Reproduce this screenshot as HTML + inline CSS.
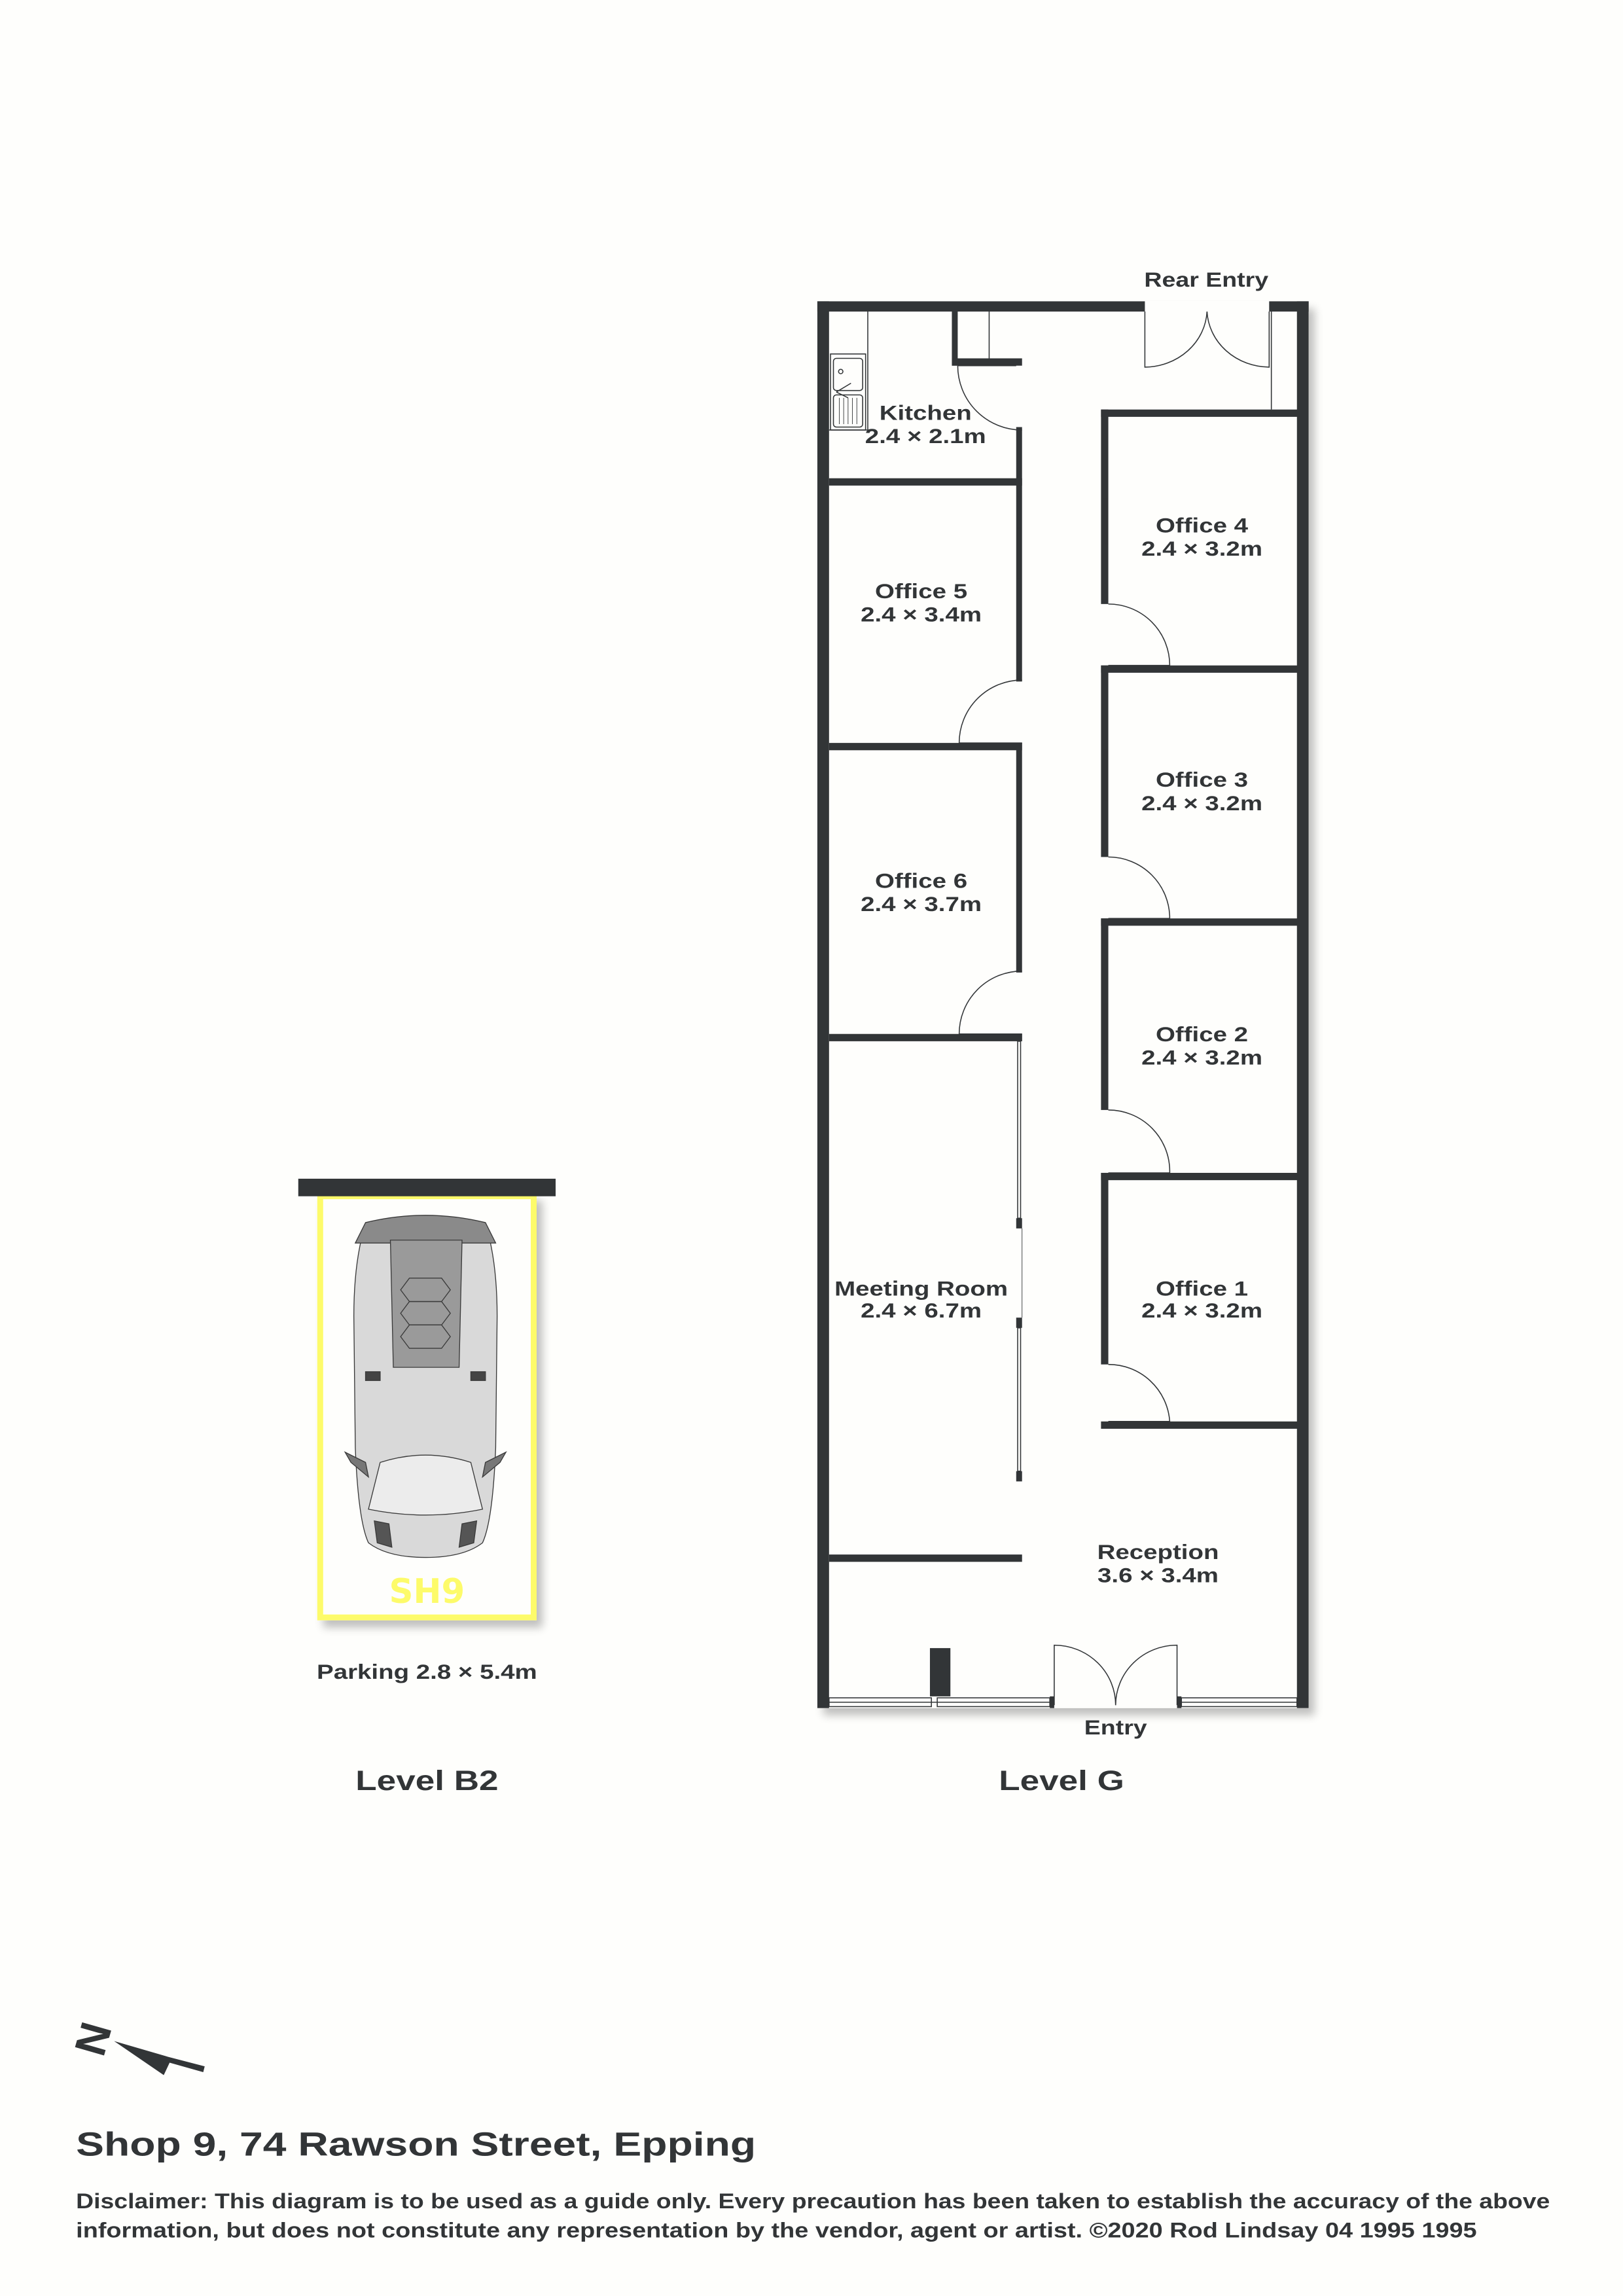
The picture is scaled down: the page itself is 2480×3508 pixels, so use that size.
<!DOCTYPE html>
<html><head><meta charset="utf-8"><style>
html,body{margin:0;padding:0;background:#fefefc;}
svg{display:block;}
text{font-family:"Liberation Sans",Arial,sans-serif;font-weight:bold;fill:#323537;}
</style></head><body>
<svg width="2480" height="3508" viewBox="0 0 1110 1570" xmlns="http://www.w3.org/2000/svg">
<defs>
<filter id="sh" x="-10%" y="-10%" width="130%" height="130%">
<feGaussianBlur in="SourceAlpha" stdDeviation="3"/><feOffset dx="4" dy="5"/>
<feComponentTransfer><feFuncA type="linear" slope="0.25"/></feComponentTransfer>
<feMerge><feMergeNode/><feMergeNode in="SourceGraphic"/></feMerge></filter>
</defs>
<rect width="1110" height="1570" fill="#fefefc"/>

<g filter="url(#sh)">
<rect x="559" y="206" width="336" height="962" fill="#fefefc"/>
</g>
<g fill="#323537">
<rect x="559" y="206" width="224" height="7"/>
<rect x="868" y="206" width="27" height="7"/>
<rect x="559" y="206" width="8" height="962"/>
<rect x="887" y="206" width="8" height="962"/>
<rect x="651" y="213" width="4" height="37"/>
<rect x="651" y="245" width="48" height="5"/>
<rect x="695" y="292" width="4" height="174"/>
<rect x="567" y="327" width="132" height="5"/>
<rect x="567" y="508" width="132" height="5"/>
<rect x="695" y="508" width="4" height="157"/>
<rect x="567" y="707" width="132" height="5"/>
<rect x="695" y="707" width="4" height="5"/>
<rect x="567" y="1063" width="132" height="5"/>
<rect x="695" y="833" width="4" height="7"/>
<rect x="695" y="901" width="4" height="7"/>
<rect x="695" y="1006" width="4" height="7"/>
<rect x="753" y="280" width="136" height="5"/>
<rect x="753" y="280" width="5" height="133"/>
<rect x="753" y="455" width="136" height="5"/>
<rect x="753" y="455" width="5" height="131"/>
<rect x="753" y="628" width="136" height="5"/>
<rect x="753" y="628" width="5" height="131"/>
<rect x="753" y="802" width="136" height="5"/>
<rect x="753" y="802" width="5" height="131"/>
<rect x="753" y="972" width="136" height="5"/>
<rect x="636" y="1127" width="14" height="33"/>
<rect x="718" y="1160" width="3" height="8"/>
<rect x="805" y="1160" width="3" height="8"/>
</g>
<g fill="none" stroke="#323537" stroke-width="0.7">
<rect x="755" y="341" width="2" height="31"/>
<rect x="696" y="361" width="2" height="34"/>
<rect x="755" y="513" width="2" height="35"/>
<rect x="696" y="560" width="2" height="36"/>
<rect x="755" y="686" width="2" height="34"/>
<rect x="755" y="860" width="2" height="34"/>
<rect x="696" y="712" width="2" height="121"/>
<rect x="696" y="908" width="2" height="98"/>
<line x1="699" y1="840" x2="699" y2="901" stroke-width="0.4"/>
<rect x="567" y="1161" width="70" height="6"/>
<rect x="641" y="1161" width="77" height="6"/>
<rect x="808" y="1161" width="79" height="6"/>
<line x1="567" y1="1164" x2="718" y2="1164"/>
<line x1="808" y1="1164" x2="887" y2="1164"/>
<line x1="869.5" y1="213" x2="869.5" y2="280"/>
<line x1="676.5" y1="213" x2="676.5" y2="245"/>
<line x1="593.5" y1="213" x2="593.5" y2="294"/>
<line x1="567" y1="294" x2="593.5" y2="294"/>
<rect x="568" y="242" width="24" height="52"/>
<rect x="570" y="245" width="20" height="22" rx="2"/>
<rect x="570" y="270" width="20" height="22" rx="2"/>
<circle cx="575" cy="254" r="1.5"/>
<path d="M572 268 L582 262 M572 268 L580 272"/>
<path d="M574 272 V290 M577 272 V290 M580 272 V290 M583 272 V290 M586 272 V290" stroke-width="0.4"/>
<path d="M655 250 A44 44 0 0 0 699 294"/>
<line x1="655" y1="250" x2="695" y2="250"/>
<path d="M783 213 V251 A43 40 0 0 0 825.5 213"/>
<path d="M868 213 V251 A43 40 0 0 1 825.5 213"/>
<path d="M699 465 A43 43 0 0 0 656 508 H699"/>
<path d="M699 664 A43 43 0 0 0 656 707 H699"/>
<path d="M758 413 A42 42 0 0 1 800 455 H758"/>
<path d="M758 586 A42 42 0 0 1 800 628 H758"/>
<path d="M758 759 A42 42 0 0 1 800 802 H758"/>
<path d="M758 933 A42 42 0 0 1 800 972 H758"/>
<path d="M721 1166 V1125 A42 41 0 0 1 763 1166"/>
<path d="M805 1166 V1125 A42 41 0 0 0 763 1166"/>
</g>

<g font-size="14" text-anchor="middle">
<text transform="translate(825 196) scale(1.2 1)">Rear Entry</text>
<text transform="translate(633 287) scale(1.23 1)">Kitchen</text><text transform="translate(633 303) scale(1.23 1)">2.4 × 2.1m</text>
<text transform="translate(822 364) scale(1.23 1)">Office 4</text><text transform="translate(822 380) scale(1.23 1)">2.4 × 3.2m</text>
<text transform="translate(630 409) scale(1.23 1)">Office 5</text><text transform="translate(630 425) scale(1.23 1)">2.4 × 3.4m</text>
<text transform="translate(822 538) scale(1.23 1)">Office 3</text><text transform="translate(822 554) scale(1.23 1)">2.4 × 3.2m</text>
<text transform="translate(630 607) scale(1.23 1)">Office 6</text><text transform="translate(630 623) scale(1.23 1)">2.4 × 3.7m</text>
<text transform="translate(822 712) scale(1.23 1)">Office 2</text><text transform="translate(822 728) scale(1.23 1)">2.4 × 3.2m</text>
<text transform="translate(630 886) scale(1.23 1)">Meeting Room</text><text transform="translate(630 901) scale(1.23 1)">2.4 × 6.7m</text>
<text transform="translate(822 886) scale(1.23 1)">Office 1</text><text transform="translate(822 901) scale(1.23 1)">2.4 × 3.2m</text>
<text transform="translate(792 1066) scale(1.23 1)">Reception</text><text transform="translate(792 1082) scale(1.23 1)">3.6 × 3.4m</text>
<text transform="translate(763 1186) scale(1.2 1)">Entry</text>
<text transform="translate(292 1148) scale(1.23 1)">Parking 2.8 × 5.4m</text>
</g>
<g font-size="19" text-anchor="middle">
<text transform="translate(292 1224) scale(1.25 1)">Level B2</text>
<text transform="translate(726 1224) scale(1.25 1)">Level G</text>
</g>

<g filter="url(#sh)">
<rect x="219" y="818" width="146" height="288" fill="#fefefc" stroke="#fdfb6a" stroke-width="4"/>
</g>
<rect x="204" y="806" width="176" height="12" fill="#323537"/>
<g stroke="#3a3a3a" stroke-width="0.6">
<path d="M247 848 Q242 870 242 900 L243 990 Q245 1040 252 1055 Q265 1065 291 1065 Q317 1065 330 1055 Q337 1040 339 990 L340 900 Q340 870 335 848 Z" fill="#d9d9d9"/>
<path d="M243 850 L250 836 Q291 826 332 836 L339 850 Z" fill="#8a8a8a"/>
<path d="M267 848 L316 848 L314 935 L269 935 Z" fill="#9a9a9a"/>
<path d="M280 874 L302 874 L308 882 L302 890 L280 890 L274 882 Z" fill="none"/>
<path d="M280 890 L302 890 L308 898 L302 906 L280 906 L274 898 Z" fill="none"/>
<path d="M280 906 L302 906 L308 914 L302 922 L280 922 L274 914 Z" fill="none"/>
<path d="M260 1000 Q291 990 322 1000 L330 1032 Q291 1040 252 1032 Z" fill="#ececec"/>
<path d="M236 993 L250 1000 L252 1010 L240 1000 Z" fill="#777"/>
<path d="M346 993 L332 1000 L330 1010 L342 1000 Z" fill="#777"/>
<rect x="250" y="938" width="10" height="6" fill="#444"/>
<rect x="322" y="938" width="10" height="6" fill="#444"/>
<path d="M256 1040 L266 1042 L268 1058 L258 1055 Z" fill="#555"/>
<path d="M326 1040 L316 1042 L314 1058 L324 1055 Z" fill="#555"/>
</g>
<text x="292" y="1096" font-size="23" text-anchor="middle" style="fill:#fdfb6a;font-family:'DejaVu Sans',sans-serif;">SH9</text>

<text x="0" y="0" font-size="30" text-anchor="middle" transform="translate(63 1394) rotate(-74) translate(0 11)">N</text>
<polygon points="78,1395.7 115,1406.5 140,1413 139,1417 116,1410.5 112,1419" fill="#323537"/>

<text x="52" y="1474" font-size="23" textLength="465" lengthAdjust="spacingAndGlyphs">Shop 9, 74 Rawson Street, Epping</text>
<text x="52" y="1510" font-size="14.6" textLength="1008" lengthAdjust="spacingAndGlyphs">Disclaimer: This diagram is to be used as a guide only. Every precaution has been taken to establish the accuracy of the above</text>
<text x="52" y="1530" font-size="14.6" textLength="958" lengthAdjust="spacingAndGlyphs">information, but does not constitute any representation by the vendor, agent or artist. ©2020 Rod Lindsay 04 1995 1995</text>
</svg>
</body></html>
